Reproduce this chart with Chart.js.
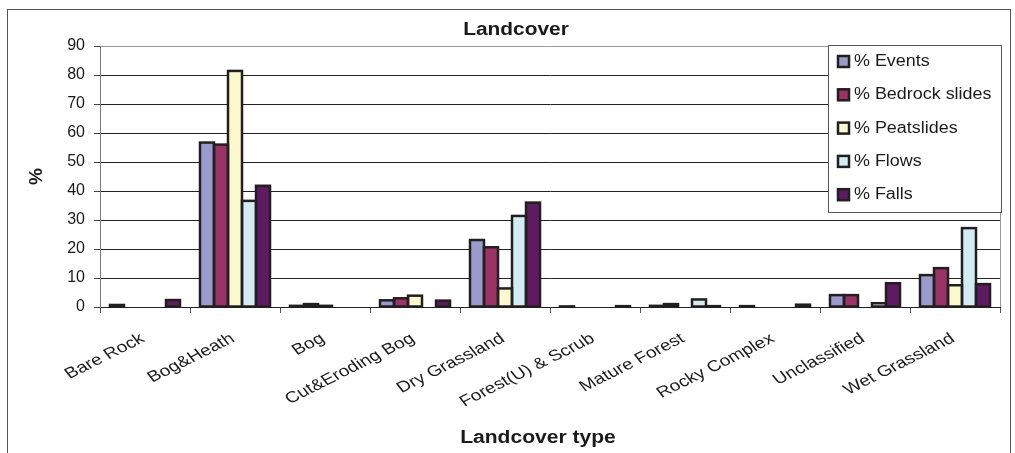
<!DOCTYPE html>
<html>
<head>
<meta charset="utf-8">
<title>Landcover</title>
<script src="https://cdn.jsdelivr.net/npm/chart.js@4/dist/chart.umd.min.js"></script>
<style>
  html, body { margin: 0; padding: 0; background: #fff; }
  #wrap { width: 1015px; height: 453px; position: relative; }
  canvas { display: block; }
</style>
</head>
<body>
<div id="wrap"><canvas id="c" width="1015" height="453"></canvas></div>
<script>
// Landcover categories and the share (%) of each landslide class per category
const categories = ['Bare Rock', 'Bog&Heath', 'Bog', 'Cut&Eroding Bog', 'Dry Grassland',
  'Forest(U) & Scrub', 'Mature Forest', 'Rocky Complex', 'Unclassified', 'Wet Grassland'];
const seriesNames = ['% Events', '% Bedrock slides', '% Peatslides', '% Flows', '% Falls'];
const events   = [0.7, 56.7, 0.4, 2.3, 23.1, 0.2, 0.4, 0.3, 4.1, 11.0];
const bedrock  = [0,   56.0, 1.0, 3.0, 20.6, 0,   1.0, 0,   4.1, 13.4];
const peat     = [0,   81.4, 0.4, 3.9, 6.4,  0,   0,   0,   0,   7.5];
const flows    = [0,   36.6, 0,   0,   31.4, 0,   2.6, 0,   1.3, 27.2];
const falls    = [2.4, 41.8, 0,   2.2, 36.0, 0.3, 0.3, 0.8, 8.2, 7.9];
const yTicks   = [0, 10, 20, 30, 40, 50, 60, 70, 80, 90];

const fills = ['#9a9acc', '#9b3366', '#fcf9cf', '#d2ecf2', '#5f1b61'];
const EDGE = '#231f20';
const FONT = "'Liberation Sans', Arial, sans-serif";

const datasets = [events, bedrock, peat, flows, falls].map((vals, i) => ({
  label: seriesNames[i],
  data: vals,
  backgroundColor: fills[i],
  borderWidth: 0,
  categoryPercentage: 0.778,
  barPercentage: 1.0
}));

// draws a string, optionally rotated, then widened horizontally on screen
function drawText(ctx, txt, x, y, font, sx, align, rot, baseline) {
  ctx.save();
  ctx.font = font;
  ctx.fillStyle = '#1a1a1a';
  ctx.textAlign = align || 'center';
  ctx.textBaseline = baseline || 'middle';
  ctx.translate(x, y);
  ctx.scale(sx, 1);
  if (rot) ctx.rotate(rot);
  ctx.fillText(txt, 0, 0);
  ctx.restore();
}

// outlines every non-zero bar with a heavy edge centred on its border
const barEdges = {
  id: 'barEdges',
  afterDatasetsDraw(chart) {
    const ctx = chart.ctx;
    ctx.save();
    ctx.strokeStyle = EDGE;
    ctx.lineWidth = 2.5;
    ctx.lineJoin = 'miter';
    chart.data.datasets.forEach((ds, di) => {
      const meta = chart.getDatasetMeta(di);
      meta.data.forEach((el, j) => {
        if (!ds.data[j]) return;
        const p = el.getProps(['x', 'y', 'base', 'width'], true);
        ctx.strokeRect(p.x - p.width / 2, p.y, p.width, p.base - p.y);
      });
    });
    ctx.restore();
  }
};

const frame = {
  id: 'frame',
  beforeDraw(chart) {
    const ctx = chart.ctx;
    ctx.save();
    ctx.fillStyle = '#fff';
    ctx.fillRect(0, 0, chart.width, chart.height);
    ctx.strokeStyle = '#555';
    ctx.lineWidth = 1;
    ctx.strokeRect(7.5, 9.5, 1003, 460);
    ctx.restore();
  },
  afterDraw(chart) {
    const ctx = chart.ctx;
    const a = chart.chartArea;
    // plot area border on the right
    ctx.save();
    ctx.strokeStyle = '#9a9a9a';
    ctx.lineWidth = 1;
    ctx.beginPath();
    ctx.moveTo(a.right + 0.5, a.top);
    ctx.lineTo(a.right + 0.5, a.bottom);
    ctx.stroke();
    ctx.restore();

    // slanted category labels
    const xs = chart.scales.x;
    chart.data.labels.forEach((lab, i) => {
      const px = xs.getPixelForTick(i);
      drawText(ctx, lab, px + 0.7, a.bottom + 34, '15.4px ' + FONT, 1.25, 'right',
        -32.1 * Math.PI / 180, 'alphabetic');
    });

    // titles
    drawText(ctx, 'Landcover', 516, 30, 'bold 19px ' + FONT, 1.1);
    drawText(ctx, 'Landcover type', 538, 438, 'bold 18px ' + FONT, 1.17);
    drawText(ctx, '%', 37, (a.top + a.bottom) / 2, 'bold 19px ' + FONT, 1.0, 'center', -Math.PI / 2);

    // legend box
    const lx = 828, ly = 45, lw = 173, lh = 167;
    ctx.save();
    ctx.fillStyle = '#fff';
    ctx.fillRect(lx, ly, lw, lh);
    ctx.strokeStyle = '#555';
    ctx.lineWidth = 1;
    ctx.strokeRect(lx + 0.5, ly + 0.5, lw, lh);
    chart.data.datasets.forEach((ds, i) => {
      const cy = 61.5 + i * 33.3;
      ctx.fillStyle = ds.backgroundColor;
      ctx.fillRect(838, cy - 5.5, 11, 11);
      ctx.strokeStyle = EDGE;
      ctx.lineWidth = 2.5;
      ctx.strokeRect(838, cy - 5.5, 11, 11);
      drawText(ctx, ds.label, 854, cy, '16px ' + FONT, 1.12, 'left');
    });
    ctx.restore();
  }
};

new Chart(document.getElementById('c'), {
  type: 'bar',
  data: { labels: categories, datasets },
  options: {
    responsive: false,
    animation: false,
    devicePixelRatio: 1,
    layout: { padding: { top: 46, right: 15, left: 0, bottom: 0 } },
    plugins: {
      legend: { display: false },
      title: { display: false },
      tooltip: { enabled: false }
    },
    scales: {
      x: {
        offset: true,
        grid: {
          offset: true,
          drawOnChartArea: false,
          drawTicks: true,
          tickLength: 6,
          color: '#555'
        },
        border: { color: '#222', width: 1 },
        ticks: { display: false },
        afterFit(scale) { scale.height = 146; }
      },
      y: {
        min: 0,
        max: 90,
        afterBuildTicks(scale) { scale.ticks = yTicks.map(v => ({ value: v })); },
        grid: {
          color: (c) => (c.tick && c.tick.value === 90 ? '#9a9a9a' : '#222'),
          tickLength: 6,
          tickColor: '#444'
        },
        border: { color: '#777', width: 1 },
        ticks: {
          color: '#1a1a1a',
          font: { family: FONT, size: 16 },
          padding: 9
        },
        afterFit(scale) { scale.width = 100; }
      }
    }
  },
  plugins: [barEdges, frame]
});
</script>
</body>
</html>
